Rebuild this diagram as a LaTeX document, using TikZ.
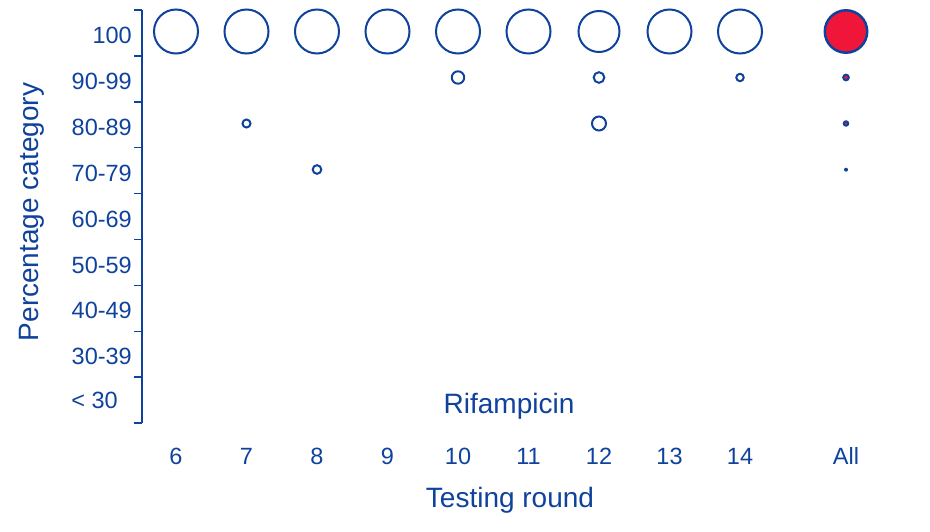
\documentclass[tikz,border=0pt]{standalone}
\usepackage{fontspec}
\setmainfont{Liberation Sans}
\definecolor{rifblue}{RGB}{14,66,156}
\definecolor{rifred}{RGB}{240,22,58}
\tikzset{
    ticklabel/.style={text=rifblue,font=\fontsize{23.5}{28}\selectfont,inner sep=0pt},
    axistitle/.style={text=rifblue,font=\fontsize{28}{33}\selectfont,inner sep=0pt},
    bubble/.style={draw=rifblue,line width=2pt},
    allbubble/.style={draw=rifblue,fill=rifred,line width=2.5pt}
}
\begin{document}
\begin{tikzpicture}[x=1pt,y=-1pt]
                    \useasboundingbox (0,0) rectangle (930,532);

                    % y axis with ticks
                    \draw[rifblue,line width=1.6pt] (142,10) -- (142,423);
                    \foreach \i in {0,...,9}
                        \draw[rifblue,line width=1.6pt] (134,{10+45.9*\i}) -- (142,{10+45.9*\i});

                    \foreach \lab [count=\i from 0] in {100,90-99,80-89,70-79,60-69,50-59,40-49,30-39}
                        \node[ticklabel,anchor=east] (cat\i) at (132,{35.5+45.9*\i}) {\lab};
                    \node[ticklabel,anchor=east] (cat8) at (118,400.5) {< 30};

                    % x axis labels
                    \foreach \r in {6,...,14}
                        \node[ticklabel] (round\r) at ({176+70.5*(\r-6)},456) {\r};
                    \node[ticklabel] (roundall) at (846,456) {All};

                    \node[axistitle] (xtitle) at (510,500) {Testing round};
                    \node[axistitle,rotate=90] (ytitle) at (32,212) {Percentage category};
                    \node[axistitle] (drug) at (509,406) {Rifampicin};

                    % 100 row
                    \foreach \r in {6,7,8,9,10,11,13,14}
                        \draw[bubble] ({176+70.5*(\r-6)},31.5) circle[radius=22pt];
                    \draw[bubble] (599,31.5) circle[radius=20.5pt];

                    % lower categories
                    \draw[bubble] (458,77.5) circle[radius=6.2pt]
                                  (599,77.5) circle[radius=5.3pt]
                                  (740,77.5) circle[radius=3.7pt];
                    \draw[bubble] (246.5,123.5) circle[radius=4pt]
                                  (599,123.5) circle[radius=7pt];
                    \draw[bubble] (317,169.5) circle[radius=4.3pt];

                    % all rounds
                    \draw[allbubble] (846,31.5) circle[radius=21.2pt];
                    \draw[allbubble,line width=2pt] (846,77.5) circle[radius=2.8pt];
                    \draw[allbubble,line width=2pt] (846,123.5) circle[radius=2.2pt];
                    \fill[rifblue] (846,169.7) circle[radius=2pt];

                    % \draw[white,line width=1.2pt] (150,16.5) -- (880,16.5);
                \end{tikzpicture}
\end{document}
